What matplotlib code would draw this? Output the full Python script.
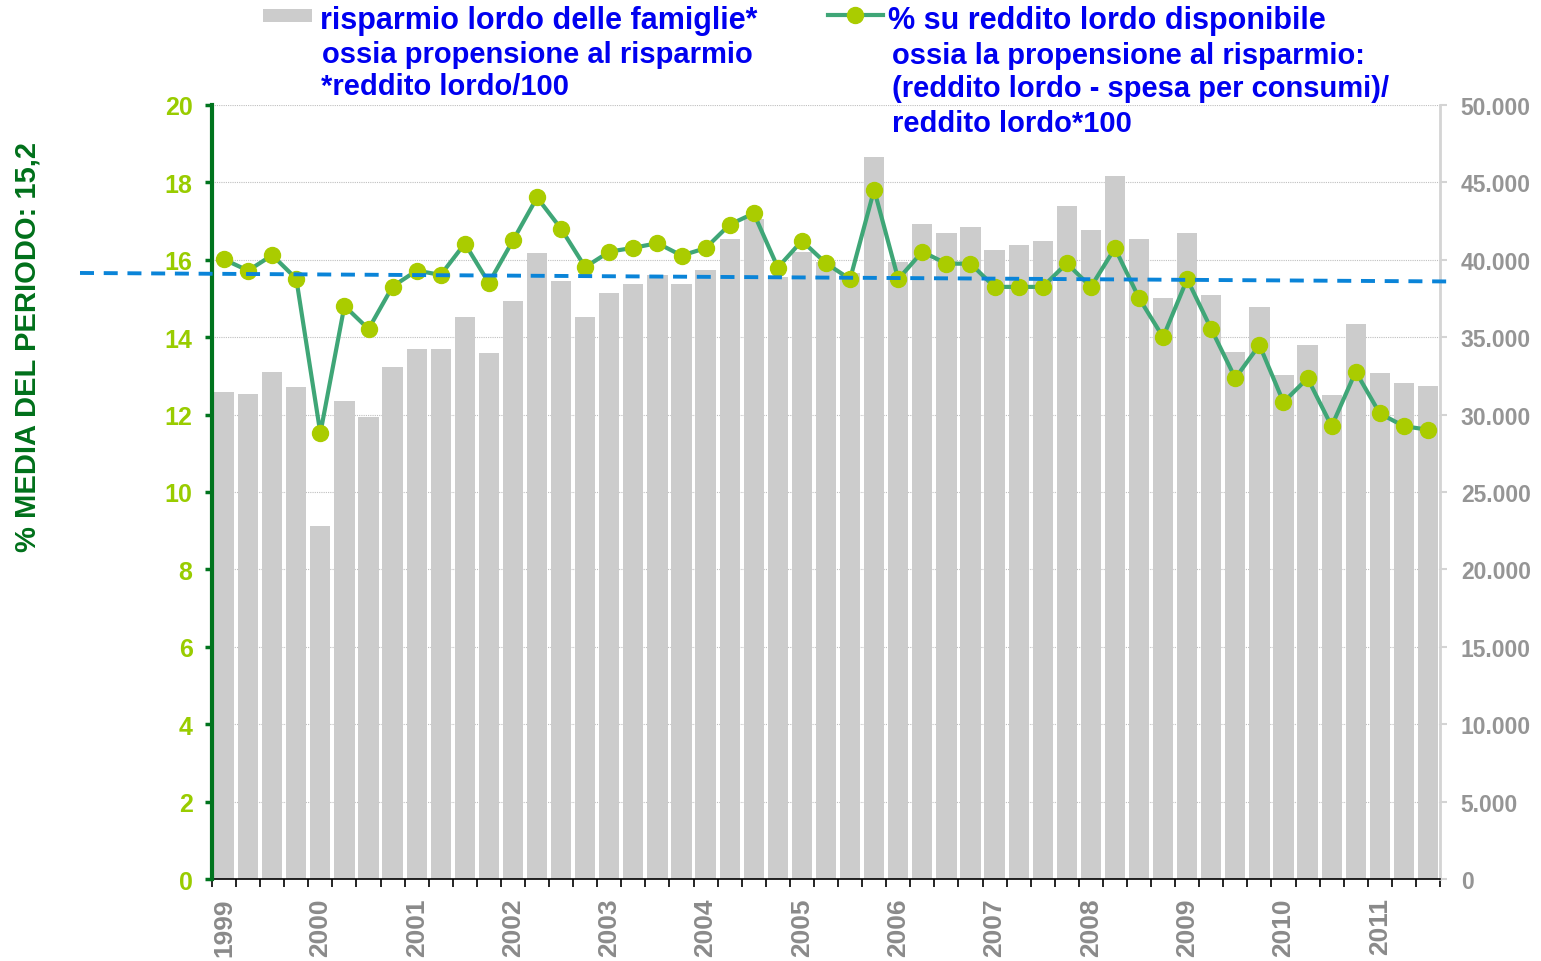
import matplotlib
matplotlib.use("Agg")
import matplotlib.pyplot as plt
from matplotlib.lines import Line2D
from matplotlib.patches import Rectangle
from matplotlib.ticker import FuncFormatter, MultipleLocator, FixedLocator
import numpy as np

plt.rcParams['font.family'] = ['Liberation Sans', 'DejaVu Sans']
plt.rcParams['font.weight'] = 'bold'

# ---- data (quarterly 1999Q1 .. 2011Q3) ----
years = ["1999", "2000", "2001", "2002", "2003", "2004", "2005",
         "2006", "2007", "2008", "2009", "2010", "2011"]
quarters_per_year = 4

savings = [31440, 31330, 32730, 31760, 22800, 30900, 29840, 33050, 34240, 34240,
           36330, 33960, 37340, 40440, 38630, 36330, 37860, 38440, 39020, 38440,
           39340, 41340, 42640, 38890, 40500, 39860, 39150, 46640, 39860, 42310,
           41730, 42140, 40610, 40950, 41230, 43450, 41920, 45410, 41340, 37530,
           41730, 37730, 34020, 36970, 32580, 34520, 31290, 35830, 32690, 32040,
           31830]

pct = [16.01, 15.72, 16.12, 15.51, 11.52, 14.81, 14.21, 15.31, 15.72, 15.61,
       16.42, 15.40, 16.50, 17.61, 16.80, 15.81, 16.21, 16.31, 16.43, 16.11,
       16.30, 16.91, 17.20, 15.80, 16.49, 15.91, 15.50, 17.81, 15.50, 16.21,
       15.90, 15.90, 15.30, 15.30, 15.30, 15.91, 15.30, 16.30, 15.01, 14.00,
       15.50, 14.21, 12.94, 13.80, 12.32, 12.94, 11.70, 13.11, 12.03, 11.70,
       11.61]

mean_line = [15.66, 15.44]   # drawn period-average reference (start, end)

legend_bar = ["risparmio lordo delle famiglie*",
              "ossia propensione al risparmio",
              "*reddito lordo/100"]
legend_line = ["% su reddito lordo disponibile",
               "ossia la propensione al risparmio:",
               "(reddito lordo - spesa per consumi)/",
               "reddito lordo*100"]
ylabel_text = "% MEDIA DEL PERIODO: 15,2"

# ---- figure ----
W, H = 1541, 962
fig = plt.figure(figsize=(W / 100, H / 100), dpi=100)
fig.patch.set_facecolor("white")

def fx(px):
    return px / W

def fy(py):
    return 1 - py / H

ax2 = fig.add_axes([fx(212), fy(880), (1440 - 212) / W, (880 - 106) / H])
ax = ax2.twinx()
ax.yaxis.tick_left()
ax.yaxis.set_label_position("left")
ax2.yaxis.tick_right()
ax2.yaxis.set_label_position("right")

ax.set_zorder(ax2.get_zorder() + 1)
ax.patch.set_visible(False)

n = len(savings)
x = np.arange(n)

BAR_C = "#CCCCCC"
LINE_C = "#3FA677"
MARK_C = "#AACC00"
GREEN_AX = "#00741E"
YL_C = "#99CC00"
GRAY_T = "#959595"
BLUE_T = "#0000F0"

# bars on the right axis
ax2.bar(x, savings, width=0.84, color=BAR_C, zorder=2)
ax2.set_ylim(0, 50000)
ax2.set_xlim(-0.5, n - 0.5)
ax2.yaxis.set_major_locator(MultipleLocator(5000))
ax2.yaxis.set_major_formatter(FuncFormatter(lambda v, p: f"{v:,.0f}".replace(",", ".")))
ax2.grid(axis="y", color="#BFBFBF", linestyle=(0, (1, 1)), linewidth=0.8, zorder=0)
ax2.set_axisbelow(True)

# line on left axis
ax.plot(x, pct, color=LINE_C, linewidth=3.0, marker="o", markersize=11.5,
        markerfacecolor=MARK_C, markeredgecolor=MARK_C, zorder=3)
ax.set_ylim(0, 20)
ax.set_xlim(-0.5, n - 0.5)
ax.yaxis.set_major_locator(MultipleLocator(2))

# dashed average line (extends beyond the plot area on the left)
px_per_bar = (1440 - 212) / n
x0 = (80 - 212) / px_per_bar - 0.5
x1 = (1450 - 212) / px_per_bar - 0.5
ax.plot([x0, x1], mean_line, color="#0A84D8", linewidth=2.8,
        linestyle=(0, (3.6, 2.5)), clip_on=False, zorder=5)

# spines
for a in (ax, ax2):
    a.spines["top"].set_visible(False)
ax.spines["right"].set_visible(False)
ax2.spines["left"].set_visible(False)
ax.spines["left"].set_color(GREEN_AX)
ax.spines["left"].set_linewidth(3.0)
ax.spines["bottom"].set_visible(False)
ax2.spines["bottom"].set_color("black")
ax2.spines["bottom"].set_linewidth(1.2)
ax2.spines["right"].set_color("#D4D4D4")
ax2.spines["right"].set_linewidth(2.0)

# left ticks
ax.tick_params(axis="y", which="major", direction="out", length=5, width=2.5,
               color=GREEN_AX, labelcolor=YL_C, labelsize=18, pad=9)
for lab in ax.get_yticklabels():
    lab.set_fontweight("bold")

# right ticks
ax2.tick_params(axis="y", which="major", direction="out", length=5, width=1.5,
                color="#D4D4D4", labelcolor=GRAY_T, labelsize=16.5, pad=10)

# x ticks: boundaries as minor ticks, year labels as major without marks
ax.tick_params(axis="x", which="both", bottom=False, labelbottom=False)
year_pos = [i * quarters_per_year for i in range(len(years))]
ax2.xaxis.set_major_locator(FixedLocator(year_pos))
ax2.set_xticklabels(years, rotation=90, fontsize=19, fontweight="bold", color="#8A8A8A")
ax2.xaxis.set_minor_locator(FixedLocator(np.arange(n + 1) - 0.5))
ax2.tick_params(axis="x", which="major", length=0, pad=13)
ax2.tick_params(axis="x", which="minor", length=6, width=1.2, color="black", direction="out")

# y label
fig.text(fx(28), fy(347), ylabel_text, rotation=90, color="#00701A",
         fontsize=21, fontweight="bold", ha="center", va="center")

# ---- legend (manual) ----
fig.patches.append(Rectangle((fx(263), fy(23)), (312 - 263) / W, 13 / H,
                             transform=fig.transFigure, facecolor=BAR_C,
                             edgecolor="none"))
bar_pos = [(320, 29), (322, 63), (321, 95)]
for i, ((px, py), t) in enumerate(zip(bar_pos, legend_bar)):
    fig.text(fx(px), fy(py), t, color=BLUE_T, fontsize=22 if i == 0 else 21,
             fontweight="bold", ha="left", va="baseline")

fig.lines.append(Line2D([fx(828), fx(883)], [fy(16), fy(16)], transform=fig.transFigure,
                        color=LINE_C, linewidth=3.0))
fig.lines.append(Line2D([fx(855.5)], [fy(16)], transform=fig.transFigure,
                        marker="o", markersize=11.5, markerfacecolor=MARK_C,
                        markeredgecolor=MARK_C, linestyle="none"))
line_pos = [(888, 29), (892, 64), (892, 97), (892, 132)]
for i, ((px, py), t) in enumerate(zip(line_pos, legend_line)):
    fig.text(fx(px), fy(py), t, color=BLUE_T, fontsize=22 if i == 0 else 21,
             fontweight="bold", ha="left", va="baseline")

fig.savefig("out.png", dpi=100, facecolor="white")
